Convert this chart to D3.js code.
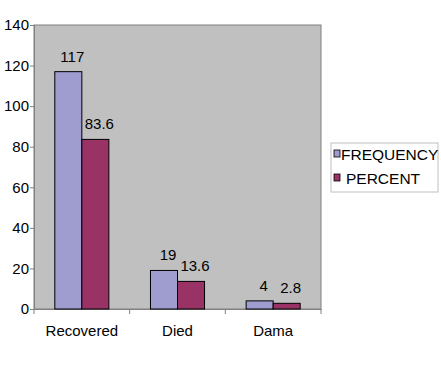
<!DOCTYPE html>
<html>
<head>
<meta charset="utf-8">
<script src="https://cdn.jsdelivr.net/npm/d3@7"></script>
<style>
  body { margin: 0; background: #fff; }
  svg { display: block; font-family: "Liberation Sans", Arial, sans-serif; }
</style>
</head>
<body>
<div id="chart"></div>
<script>
// chart data
const categories = ["Recovered", "Died", "Dama"];
const seriesNames = ["FREQUENCY", "PERCENT"];
const frequency = [117, 19, 4];
const percent = [83.6, 13.6, 2.8];
const yTicks = [0, 20, 40, 60, 80, 100, 120, 140];

const colors = { FREQUENCY: "#9f9ccf", PERCENT: "#993366" };

const width = 441, height = 366;
const plot = { left: 34, top: 25, right: 321, bottom: 309 };

const svg = d3.select("#chart").append("svg")
    .attr("width", width)
    .attr("height", height);

const x0 = d3.scaleBand()
    .domain(categories)
    .range([plot.left, plot.right])
    .padding(0);

const x1 = d3.scaleBand()
    .domain(seriesNames)
    .range([0, x0.bandwidth()])
    .paddingInner(0)
    .paddingOuter(0.77);

const y = d3.scaleLinear()
    .domain([0, 140])
    .range([plot.bottom, plot.top]);

// plot area background
svg.append("rect")
    .attr("x", plot.left)
    .attr("y", plot.top)
    .attr("width", plot.right - plot.left)
    .attr("height", plot.bottom - plot.top)
    .attr("fill", "#c0c0c0")
    .attr("stroke", "#808080")
    .attr("stroke-width", 1);

// y axis
const yAxis = svg.append("g")
    .attr("transform", `translate(${plot.left},0)`)
    .call(d3.axisLeft(y).tickValues(yTicks).tickSize(4).tickPadding(1));
yAxis.select(".domain").attr("stroke", "#808080");
yAxis.selectAll(".tick line").attr("stroke", "#808080");
yAxis.selectAll(".tick text")
    .attr("font-size", 15)
    .attr("font-family", "Liberation Sans, Arial, sans-serif")
    .attr("fill", "#000");

// x axis
const xAxis = svg.append("g")
    .attr("transform", `translate(0,${plot.bottom})`)
    .call(d3.axisBottom(x0).tickSize(0).tickPadding(16));
xAxis.select(".domain").attr("stroke", "#808080");
xAxis.selectAll(".tick text")
    .attr("font-size", 15)
    .attr("font-family", "Liberation Sans, Arial, sans-serif")
    .attr("fill", "#000");

// category separator ticks
const boundaries = categories.map(c => x0(c)).concat([plot.right]);
svg.append("g").selectAll("line")
    .data(boundaries)
    .enter().append("line")
    .attr("x1", d => d).attr("x2", d => d)
    .attr("y1", plot.bottom).attr("y2", plot.bottom + 5)
    .attr("stroke", "#808080");

// bars
const rows = categories.map((c, i) => ({
    category: c,
    values: [
        { key: "FREQUENCY", value: frequency[i], label: String(frequency[i]) },
        { key: "PERCENT", value: percent[i], label: String(percent[i]) }
    ]
}));

const groups = svg.append("g").selectAll("g")
    .data(rows)
    .enter().append("g")
    .attr("transform", d => `translate(${x0(d.category)},0)`);

groups.selectAll("rect")
    .data(d => d.values)
    .enter().append("rect")
    .attr("x", d => x1(d.key))
    .attr("y", d => y(d.value))
    .attr("width", x1.bandwidth())
    .attr("height", d => y(0) - y(d.value))
    .attr("fill", d => colors[d.key])
    .attr("stroke", "#000")
    .attr("stroke-width", 1);

groups.selectAll("text")
    .data(d => d.values)
    .enter().append("text")
    .attr("x", d => x1(d.key) + x1.bandwidth() / 2 + 4)
    .attr("y", d => y(d.value) - 10)
    .attr("text-anchor", "middle")
    .attr("font-size", 15)
    .attr("fill", "#000")
    .text(d => d.label);

// legend
const legend = svg.append("g").attr("transform", "translate(331,143)");
legend.append("rect")
    .attr("width", 107)
    .attr("height", 49)
    .attr("fill", "#fff")
    .attr("stroke", "#c0c0c0");

seriesNames.forEach((name, i) => {
    const row = legend.append("g").attr("transform", `translate(3,${12 + i * 24})`);
    row.append("rect")
        .attr("x", 0).attr("y", -5)
        .attr("width", 6).attr("height", 7)
        .attr("fill", colors[name])
        .attr("stroke", "#000")
        .attr("stroke-width", 0.8);
    row.append("text")
        .attr("x", i === 0 ? 7 : 12)
        .attr("y", 4.5)
        .attr("font-size", 15.5)
        .attr("fill", "#000")
        .text(name);
});
</script>
</body>
</html>
